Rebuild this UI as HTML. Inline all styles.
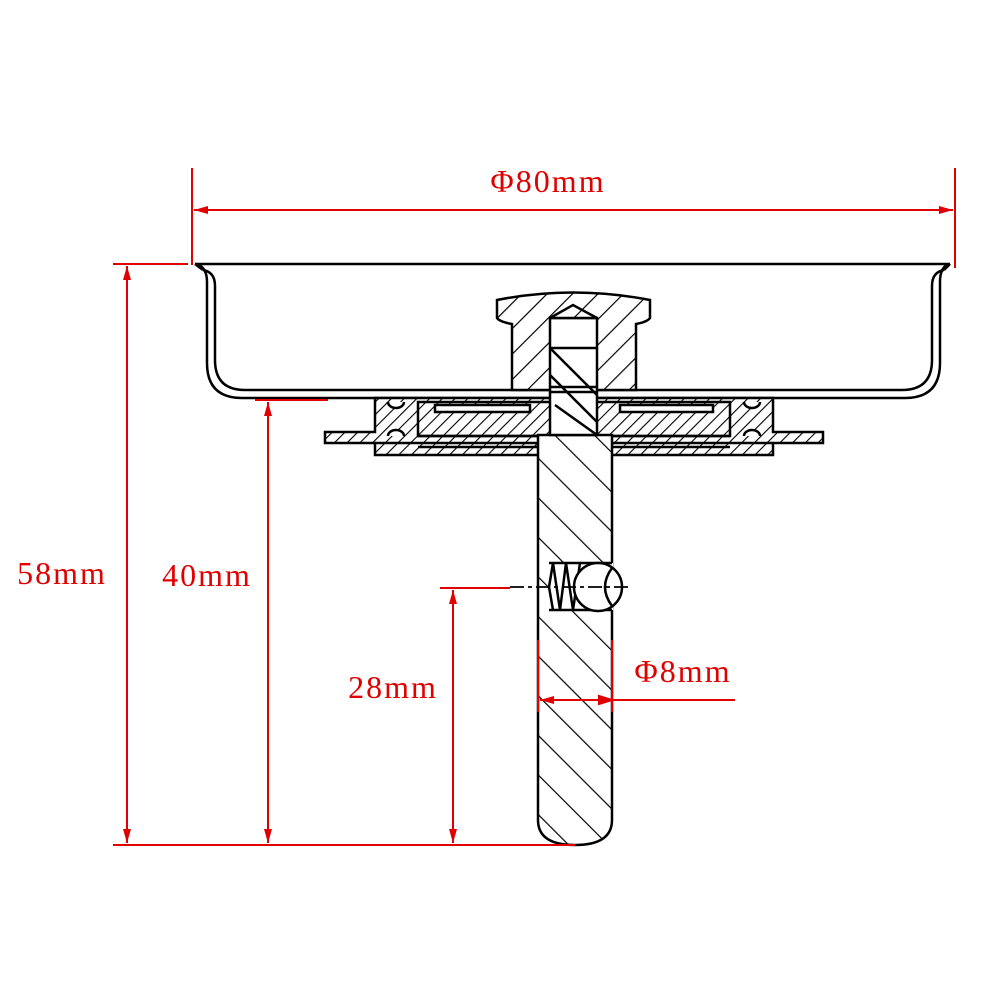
<!DOCTYPE html>
<html><head><meta charset="utf-8"><style>body{margin:0;background:#fff}svg{display:block}text{font-family:"Liberation Serif",serif;fill:#e00000;font-size:32px;letter-spacing:2px}</style></head><body>
<svg width="990" height="990" viewBox="0 0 990 990" xmlns="http://www.w3.org/2000/svg">
<defs>
<pattern id="h1" patternUnits="userSpaceOnUse" width="18" height="18" patternTransform="rotate(45)"><rect width="18" height="18" fill="#fff"/><line x1="0" y1="0" x2="0" y2="18" stroke="#000" stroke-width="2.4"/></pattern>
<pattern id="h2" patternUnits="userSpaceOnUse" width="9" height="9" patternTransform="rotate(45)"><rect width="9" height="9" fill="#fff"/><line x1="0" y1="0" x2="0" y2="9" stroke="#000" stroke-width="2.2"/></pattern>
<pattern id="h3" patternUnits="userSpaceOnUse" width="28" height="28" patternTransform="rotate(-45)"><rect width="28" height="28" fill="#fff"/><line x1="0" y1="0" x2="0" y2="28" stroke="#000" stroke-width="2.4"/></pattern>
<marker id="a" viewBox="0 0 14 10" refX="14" refY="5" markerWidth="14" markerHeight="10" orient="auto-start-reverse" markerUnits="userSpaceOnUse"><path d="M0,1 L14,5 L0,9z" fill="#e00000"/></marker>
</defs>
<g fill="none" stroke="#000" stroke-width="2.5">
<path d="M195,264 H950"/>
<path d="M195,264 Q207,266 207,282 V363 Q207,398 242,398 H905 Q940,398 940,363 V282 Q940,266 950,264" />
<path d="M203,270 Q215,272 215,286 V360 Q215,390 245,390 H902 Q932,390 932,360 V286 Q932,272 944,270"/>
<path d="M195,264 L203,270 M950,264 L944,270"/>
<path d="M325,432 H375 V398 H773 V432 H823 V443 H773 V455 H375 V443 H325 Z" fill="url(#h2)"/>
<path d="M418,402 H730 V436 H418 Z" fill="url(#h2)"/>
<path d="M435,405 H530 V412 H435 Z M620,405 H713 V412 H620 Z" fill="#fff"/>
<path d="M418,436 H730 M375,443 H773 M418,447 H730" />
<path d="M388,402 a8,6 0 0 0 16,0 M388,436 a8,6 0 0 1 16,0 M744,402 a8,6 0 0 0 16,0 M744,436 a8,6 0 0 1 16,0" fill="#fff"/>
<path d="M497,300 Q573,285 650,300 V318 Q647,322 636,324 V390 H512 V324 Q500,322 497,318 Z" fill="url(#h1)"/>
<path d="M538,435 H612 V820 Q612,845 575,845 Q538,845 538,820 Z" fill="url(#h3)"/>
<rect x="550" y="318" width="47" height="117" fill="#fff"/>
<path d="M550,318 L573,305 L597,318" fill="url(#h1)"/>
<path d="M550,318 H597 M550,348 H597 M550,387 H597 M550,392 H597"/>
<path d="M550,348 L597,395 M550,375 L597,422 M555,405 L597,435"/>
<rect x="549" y="563" width="64" height="47" fill="#fff" stroke="none"/>
<path d="M549,563 H612 M549,610 H612 M549,587 L553,563 M549,587 L553,610"/>
<path d="M553,563 L560,610 L566,563 L573,610 L580,563"/>
<circle cx="598" cy="587" r="24" fill="#fff"/>
<path d="M612,568 Q598,587 612,606"/>
<path d="M510,587 H628" stroke-dasharray="14,4,4,4" stroke-width="1.8"/>
</g>
<g stroke="#e00000" stroke-width="2" fill="none">
<path d="M192,168 V265 M955,168 V268"/>
<path d="M194,210 H953" marker-start="url(#a)" marker-end="url(#a)"/>
<path d="M113,264 H188 M113,845 H575 M255,400 H328 M440,588 H510"/>
<path d="M127,266 V843" marker-start="url(#a)" marker-end="url(#a)"/>
<path d="M268,402 V843" marker-start="url(#a)" marker-end="url(#a)"/>
<path d="M453,590 V843" marker-start="url(#a)" marker-end="url(#a)"/>
<path d="M538,640 V712 M612,640 V712"/>
<path d="M540,700 H735" marker-start="url(#a)"/>
<path d="M612,700 L599,696 L599,704 Z" fill="#e00000"/>
</g>
<text x="548" y="192" text-anchor="middle">Φ80mm</text>
<text x="62" y="584" text-anchor="middle">58mm</text>
<text x="207" y="586" text-anchor="middle">40mm</text>
<text x="393" y="698" text-anchor="middle">28mm</text>
<text x="683" y="682" text-anchor="middle">Φ8mm</text>
</svg>
</body></html>
